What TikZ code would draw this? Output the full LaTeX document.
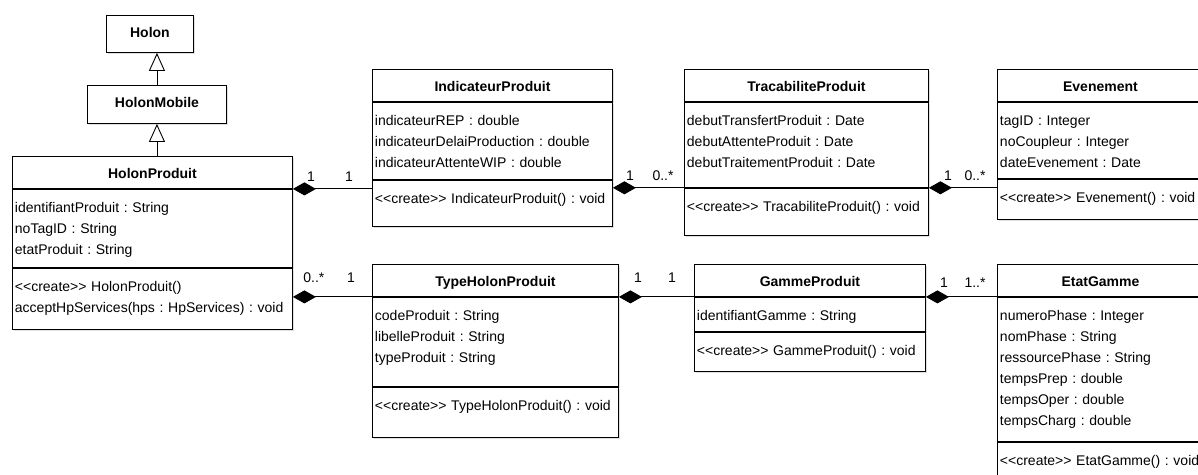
\documentclass[tikz,border=0pt]{standalone}
\usepackage{fontspec}
\setmainfont{Liberation Sans}
\usetikzlibrary{arrows.meta, calc, positioning, shadows}

\begin{document}
\frenchspacing
\begin{tikzpicture}[
    x=1pt, y=1pt,
    font=\fontsize{14}{21}\selectfont,
    umlbox/.style={
      draw=black,
      fill=white,
      line width=0.9pt,
      inner xsep=2.5pt,
      inner ysep=0pt,
      drop shadow={shadow xshift=1.5pt, shadow yshift=-1.5pt, opacity=0.25},
    },
    cname/.style={
      umlbox,
      anchor=north west,
      align=center,
      text height=22.5pt,
      font=\fontsize{14}{21}\selectfont\bfseries,
    },
    members/.style={
      umlbox,
      align=left,
      text height=23pt,
    },
    compo/.style={
      draw,
      line width=0.9pt,
      -{Diamond[length=23pt, width=13pt]},
    },
    inherit/.style={
      draw,
      line width=0.9pt,
      -{Triangle[open, length=18pt, width=16pt, fill=white]},
    },
    mult/.style={anchor=base, inner sep=0pt},
  ]

  \path[use as bounding box, fill=white] (0,0) rectangle (1198,-474);
  \clip (0,0) rectangle (1198,-474);

  % Hierarchy
  \node[cname, text width=82pt, text depth=14.5pt] (hl) at (106,-15) {Holon};
  \node[cname, text width=134pt, text depth=15.5pt] (hm) at (87,-85) {HolonMobile};

  % HolonProduit
  \node[cname, text width=275pt, text depth=9.5pt] (hp-n) at (12,-156) {HolonProduit};
  \node[members, text width=275pt, text depth=55pt, below=0pt of hp-n] (hp-a) {%
    identifiantProduit : String\\
    noTagID : String\\
    etatProduit : String};
  \node[members, text width=275pt, text depth=38pt, below=0pt of hp-a] (hp-o) {%
    <{}<create>{}> HolonProduit()\\
    acceptHpServices(hps : HpServices) : void};

  % Top row
  \node[cname, text width=235pt, text depth=9.5pt] (ip-n) at (372,-69) {IndicateurProduit};
  \node[members, text width=235pt, text depth=54pt, below=0pt of ip-n] (ip-a) {%
    indicateurREP : double\\
    indicateurDelaiProduction : double\\
    indicateurAttenteWIP : double};
  \node[members, text width=235pt, text depth=23pt, below=0pt of ip-a] (ip-o) {%
    <{}<create>{}> IndicateurProduit() : void};

  \node[cname, text width=239pt, text depth=9.5pt] (tp-n) at (684,-69) {TracabiliteProduit};
  \node[members, text width=239pt, text depth=62pt, below=0pt of tp-n] (tp-a) {%
    debutTransfertProduit : Date\\
    debutAttenteProduit : Date\\
    debutTraitementProduit : Date};
  \node[members, text width=239pt, text depth=24pt, below=0pt of tp-a] (tp-o) {%
    <{}<create>{}> TracabiliteProduit() : void};

  \node[cname, text width=201pt, text depth=9.5pt] (ev-n) at (997,-69) {Evenement};
  \node[members, text width=201pt, text depth=53pt, below=0pt of ev-n] (ev-a) {%
    tagID : Integer\\
    noCoupleur : Integer\\
    dateEvenement : Date};
  \node[members, text width=201pt, text depth=17pt, below=0pt of ev-a] (ev-o) {%
    <{}<create>{}> Evenement() : void};

  % Bottom row
  \node[cname, text width=241pt, text depth=9.5pt] (th-n) at (372,-264) {TypeHolonProduit};
  \node[members, text width=241pt, text depth=66pt, below=0pt of th-n] (th-a) {%
    codeProduit : String\\
    libelleProduit : String\\
    typeProduit : String};
  \node[members, text width=241pt, text depth=27pt, below=0pt of th-a] (th-o) {%
    <{}<create>{}> TypeHolonProduit() : void};

  \node[cname, text width=226pt, text depth=9.5pt] (gp-n) at (694,-264) {GammeProduit};
  \node[members, text width=226pt, text depth=11pt, below=0pt of gp-n] (gp-a) {%
    identifiantGamme : String};
  \node[members, text width=226pt, text depth=16pt, below=0pt of gp-a] (gp-o) {%
    <{}<create>{}> GammeProduit() : void};

  \node[cname, text width=201pt, text depth=9.5pt] (eg-n) at (997,-264) {EtatGamme};
  \node[members, text width=201pt, text depth=121pt, below=0pt of eg-n] (eg-a) {%
    numeroPhase : Integer\\
    nomPhase : String\\
    ressourcePhase : String\\
    tempsPrep : double\\
    tempsOper : double\\
    tempsCharg : double};
  \node[members, text width=201pt, text depth=37pt, below=0pt of eg-a] (eg-o) {%
    <{}<create>{}> EtatGamme() : void};

  % Generalisations
  \draw[inherit] (hm.north) -- (hm.north |- hl.south);
  \draw[inherit] (hp-n.north -| hm.south) -- (hm.south);

  % Compositions
  \draw[compo] (ip-a.west |- hp-n.south) -- (hp-n.south east)
    node[mult, pos=1, xshift=18pt, yshift=7pt] (hp-ip-1) {1}
    node[mult, pos=0, xshift=-23pt, yshift=7pt] (hp-ip-2) {1};
  \draw[compo] (tp-a.south west) -- (ip-a.east |- tp-a.south)
    node[mult, pos=1, xshift=17pt, yshift=7pt] (ip-tp-1) {1}
    node[mult, pos=0, xshift=-21pt, yshift=7pt] (ip-tp-2) {0..*};
  \draw[compo] (ev-a.west |- tp-a.south) -- (tp-a.south east)
    node[mult, pos=1, xshift=19pt, yshift=7pt] (tp-ev-1) {1}
    node[mult, pos=0, xshift=-22pt, yshift=7pt] (tp-ev-2) {0..*};
  \draw[compo] (th-n.south west) -- (hp-o.east |- th-n.south)
    node[mult, pos=1, xshift=21pt, yshift=14pt] (hp-th-1) {0..*}
    node[mult, pos=0, xshift=-21pt, yshift=14pt] (hp-th-2) {1};
  \draw[compo] (gp-n.south west) -- (th-n.south east)
    node[mult, pos=1, xshift=19pt, yshift=14pt] (th-gp-1) {1}
    node[mult, pos=0, xshift=-22pt, yshift=14pt] (th-gp-2) {1};
  \draw[compo] (eg-n.south west) -- (gp-n.south east)
    node[mult, pos=1, xshift=18pt, yshift=9pt] (gp-eg-1) {1}
    node[mult, pos=0, xshift=-22pt, yshift=9pt] (gp-eg-2) {1..*};

\end{tikzpicture}
\end{document}
